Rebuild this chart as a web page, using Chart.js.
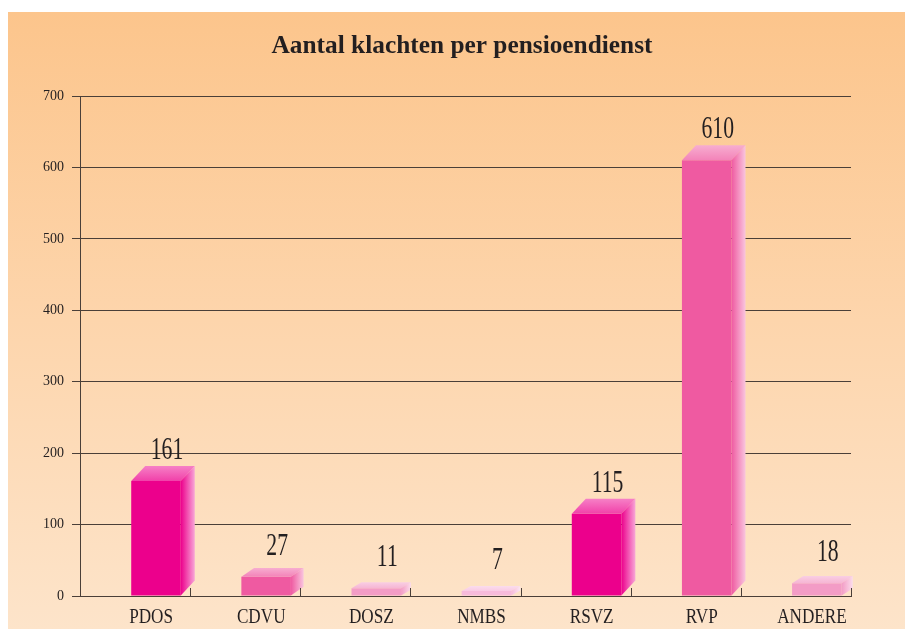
<!DOCTYPE html>
<html>
<head>
<meta charset="utf-8">
<title>Aantal klachten per pensioendienst</title>
<script src="https://cdn.jsdelivr.net/npm/chart.js@4.4.1/dist/chart.umd.min.js"></script>
<style>
  html, body { margin: 0; padding: 0; background: #fff; }
  .chartBox { width: 905px; height: 629px; }
</style>
</head>
<body>
<div class="chartBox"><canvas id="myChart"></canvas></div>
<script>
// Data
const services = ['PDOS', 'CDVU', 'DOSZ', 'NMBS', 'RSVZ', 'RVP', 'ANDERE'];
const complaints = [161, 27, 11, 7, 115, 610, 18];
const yTickValues = [0, 100, 200, 300, 400, 500, 600, 700];
const chartTitle = 'Aantal klachten per pensioendienst';

// Bar colours (front face), lighter tints are derived for top and side
const frontColors = ['#ec008c', '#ef5aa1', '#f39cc6', '#f7badb', '#ec008c', '#ef5aa1', '#f39cc6'];

const gridColor = '#4a3f38';
const textColor = '#231f20';

function mix(hex, t)
{
  const n = parseInt(hex.slice(1), 16);
  const r = (n >> 16) & 255, g = (n >> 8) & 255, b = n & 255;
  const m = c => Math.round(c + (255 - c) * t);
  return 'rgb(' + m(r) + ',' + m(g) + ',' + m(b) + ')';
}

function condensedText(ctx, text, x, y, font, sx, align)
{
  ctx.save();
  ctx.font = font;
  ctx.translate(x, y);
  ctx.scale(sx, 1);
  ctx.textAlign = align;
  ctx.textBaseline = 'alphabetic';
  ctx.fillStyle = textColor;
  ctx.fillText(text, 0, 0);
  ctx.restore();
}

function barShift(chart)
{
  const xs = chart.scales.x;
  return (xs.getPixelForValue(1) - xs.getPixelForValue(0)) * 0.19;
}

function depthOf(h)
{
  if (h < 20) return { dx: 8 + h * 0.25, dy: 4 + h * 0.25 };
  return { dx: 14, dy: 15 };
}

// background panel
const backgroundPlugin = {
  id: 'panel',
  beforeDraw(chart) {
    const ctx = chart.ctx;
    ctx.save();
    ctx.fillStyle = '#ffffff';
    ctx.fillRect(0, 0, chart.width, chart.height);
    const g = ctx.createLinearGradient(0, 12, 0, chart.height);
    g.addColorStop(0, '#fcc58c');
    g.addColorStop(0.5, '#fdd5ac');
    g.addColorStop(1, '#fde4ca');
    ctx.fillStyle = g;
    ctx.fillRect(8, 12, chart.width - 8, chart.height - 12);
    ctx.restore();
  }
};

// 3D bars: shift the front faces, then add top and side faces
const bars3d = {
  id: 'bars3d',
  beforeDatasetsDraw(chart) {
    chart.ctx.save();
    chart.ctx.translate(barShift(chart), 0);
  },
  afterDatasetsDraw(chart) {
    const ctx = chart.ctx;
    const meta = chart.getDatasetMeta(0);
    meta.data.forEach((bar, i) => {
      const p = bar.getProps(['x', 'y', 'base', 'width'], true);
      const x0 = p.x - p.width / 2, x1 = p.x + p.width / 2;
      const top = p.y, base = p.base;
      const d = depthOf(base - top);
      const c = frontColors[i];

      // top face
      let g = ctx.createLinearGradient(0, top, 0, top - d.dy);
      g.addColorStop(0, mix(c, 0.25));
      g.addColorStop(1, mix(c, 0.5));
      ctx.fillStyle = g;
      ctx.beginPath();
      ctx.moveTo(x0, top);
      ctx.lineTo(x0 + d.dx, top - d.dy);
      ctx.lineTo(x1 + d.dx, top - d.dy);
      ctx.lineTo(x1, top);
      ctx.closePath();
      ctx.fill();

      // side face
      g = ctx.createLinearGradient(x1, 0, x1 + d.dx, 0);
      g.addColorStop(0, c);
      g.addColorStop(1, mix(c, 0.65));
      ctx.fillStyle = g;
      ctx.beginPath();
      ctx.moveTo(x1, top);
      ctx.lineTo(x1 + d.dx, top - d.dy);
      ctx.lineTo(x1 + d.dx, base - d.dy);
      ctx.lineTo(x1, base);
      ctx.closePath();
      ctx.fill();
    });
    ctx.restore();
  },
  afterDraw(chart) {
    const ctx = chart.ctx;
    const xs = chart.scales.x, ys = chart.scales.y;
    const area = chart.chartArea;
    const shift = barShift(chart);
    const catW = xs.getPixelForValue(1) - xs.getPixelForValue(0);

    // inner ticks on category axis
    ctx.save();
    ctx.strokeStyle = gridColor;
    ctx.lineWidth = 1;
    services.forEach((s, i) => {
      const tx = Math.round(xs.getPixelForValue(i) + catW / 2) + 0.5;
      ctx.beginPath();
      ctx.moveTo(tx, area.bottom);
      ctx.lineTo(tx, area.bottom - 8);
      ctx.stroke();
    });
    ctx.restore();

    // category labels
    services.forEach((s, i) => {
      condensedText(ctx, s, xs.getPixelForValue(i) + 16, area.bottom + 27,
        '22px "Liberation Serif"', 0.78, 'center');
    });

    // value labels
    complaints.forEach((v, i) => {
      condensedText(ctx, String(v), xs.getPixelForValue(i) + shift + 11, ys.getPixelForValue(v) - 22,
        '31px "Liberation Serif"', 0.7, 'center');
    });

    // title
    ctx.save();
    ctx.font = 'bold 26px "Liberation Serif"';
    const sx = 381 / ctx.measureText(chartTitle).width;
    ctx.restore();
    condensedText(ctx, chartTitle, 462, 53, 'bold 26px "Liberation Serif"', sx, 'center');
  }
};

const data = {
  labels: services,
  datasets: [{
    label: 'Aantal klachten',
    data: complaints,
    backgroundColor: frontColors,
    borderWidth: 0,
    barPercentage: 0.45,
    categoryPercentage: 1,
    clip: false
  }]
};

const config = {
  type: 'bar',
  data,
  options: {
    responsive: true,
    maintainAspectRatio: false,
    animation: false,
    layout: {
      padding: { left: 8, right: 54, top: 96, bottom: 0 }
    },
    plugins: {
      legend: { display: false },
      tooltip: { enabled: false }
    },
    scales: {
      x: {
        grid: { display: false },
        border: { display: true, color: gridColor },
        ticks: { display: false },
        afterFit(scale) { scale.height = 33; }
      },
      y: {
        min: 0,
        max: 700,
        afterBuildTicks(scale) {
          scale.ticks = yTickValues.map(v => ({ value: v }));
        },
        grid: { color: gridColor, tickLength: 8, lineWidth: 1 },
        border: { color: gridColor },
        ticks: {
          color: textColor,
          padding: 8,
          font: { family: '"Liberation Serif"', size: 14 }
        },
        afterFit(scale) { scale.width = 72; }
      }
    }
  },
  plugins: [backgroundPlugin, bars3d]
};

const myChart = new Chart(
  document.getElementById('myChart'),
  config
);
</script>
</body>
</html>
